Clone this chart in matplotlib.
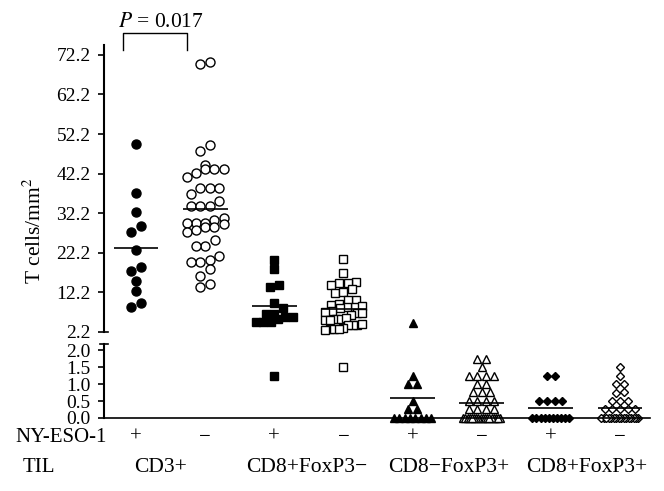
import numpy as np
import matplotlib.pyplot as plt
from matplotlib.transforms import blended_transform_factory

plt.rcParams['font.family'] = ['Liberation Serif', 'DejaVu Serif']
plt.rcParams['mathtext.fontset'] = 'stix'

# ---- data (T cells/mm^2) ----
til_labels = ['CD3+', 'CD8+FoxP3\u2212', 'CD8\u2212FoxP3+', 'CD8+FoxP3+']
nyeso_signs = ['+', '\u2212', '+', '\u2212', '+', '\u2212', '+', '\u2212']

cd3_pos = [49.8, 37.4, 32.4, 29.0, 27.4, 22.9, 18.5, 17.6, 15.0, 12.5, 8.5, 9.4]
cd3_neg = [70.4, 69.9, 49.4, 48.0, 44.4, 43.4, 43.4, 43.4, 42.3, 41.4, 38.7, 38.7,
           38.7, 37.0, 35.4, 34.1, 34.0, 34.1, 30.9, 30.4, 29.8, 29.8, 29.8, 29.5,
           28.6, 28.6, 27.5, 27.9, 25.4, 23.9, 23.9, 21.4, 20.4, 20.0, 20.0, 18.0,
           16.4, 13.5, 14.3]
cd8_foxp3neg_pos = [20.4, 18.2, 14.1, 13.6, 9.4, 8.2, 6.7, 5.4, 5.9, 4.7, 4.8, 6.7,
                    4.8, 5.9, 1.24]
cd8_foxp3neg_neg = [20.6, 17.0, 14.8, 14.5, 14.1, 14.5, 12.0, 13.0, 12.4, 10.4, 10.4,
                    9.1, 8.6, 9.3, 8.6, 8.8, 8.2, 6.9, 7.5, 7.2, 6.5, 7.0, 5.4, 5.2,
                    5.5, 5.3, 5.7, 4.0, 4.2, 4.0, 4.0, 3.1, 2.9, 2.8, 2.9, 2.9, 1.49]
cd8neg_foxp3_pos = [4.4, 1.24, 1.0, 1.0, 0.51, 0.26, 0.26, 0, 0, 0, 0, 0, 0, 0, 0]
cd8neg_foxp3_neg = [1.74, 1.74, 1.49, 1.24, 1.24, 1.24, 1.24, 1.0, 1.0, 0.76, 0.76,
                    0.76, 0.51, 0.51, 0.51, 0.51, 0.26, 0.26, 0.26, 0.26,
                    0, 0, 0, 0, 0, 0, 0, 0, 0, 0, 0, 0, 0, 0, 0, 0, 0, 0]
cd8_foxp3_pos = [1.24, 1.24, 0.5, 0.5, 0.5, 0.5, 0, 0, 0, 0, 0, 0, 0, 0, 0, 0]
cd8_foxp3_neg = [1.49, 1.24, 1.0, 1.0, 0.73, 0.76, 0.5, 0.5, 0.5, 0.26, 0.26, 0.26,
                 0.26, 0.26, 0, 0, 0, 0, 0, 0, 0, 0, 0, 0, 0, 0, 0, 0, 0, 0]

groups = [cd3_pos, cd3_neg, cd8_foxp3neg_pos, cd8_foxp3neg_neg,
          cd8neg_foxp3_pos, cd8neg_foxp3_neg, cd8_foxp3_pos, cd8_foxp3_neg]
markers = ['o', 'o', 's', 's', '^', '^', 'D', 'D']
filled = [True, False, True, False, True, False, True, False]
msizes = [6.5, 6.5, 5.8, 5.8, 5.8, 5.8, 4.2, 4.2]

p_text = '0.017'
break_at = 2.2  # values below this go to the lower panel

# ---- layout ----
W, H = 664, 491
fig = plt.figure(figsize=(W / 100, H / 100), dpi=100)
ax_top = fig.add_axes([104 / W, (H - 332) / H, 546 / W, 287 / H])
ax_bot = fig.add_axes([104 / W, (H - 418) / H, 546 / W, 74 / H])

xlim = (0.537, 8.434)
for ax in (ax_top, ax_bot):
    ax.set_xlim(*xlim)
    ax.spines['top'].set_visible(False)
    ax.spines['right'].set_visible(False)
    ax.spines['left'].set_linewidth(1.5)
    ax.tick_params(axis='y', length=4.5, width=1.2, labelsize=14, pad=5)
    ax.set_xticks([])
ax_top.spines['bottom'].set_visible(False)
ax_bot.spines['bottom'].set_linewidth(1.2)

ax_top.set_ylim(2.2, 74.7)
top_ticks = np.arange(2.2, 72.3, 10)
ax_top.set_yticks(top_ticks)
ax_top.set_yticklabels(['%.1f' % t for t in top_ticks])
ax_bot.set_ylim(0, 2.18)
bot_ticks = [0, 0.5, 1.0, 1.5, 2.0]
ax_bot.set_yticks(bot_ticks)
ax_bot.set_yticklabels(['%.1f' % t for t in bot_ticks])

# break caps on the two spines
ax_top.plot([0, 0.007], [0, 0], transform=ax_top.transAxes, color='k', lw=1.2, clip_on=False)
ax_bot.plot([-0.008, 0.008], [1, 1], transform=ax_bot.transAxes, color='k', lw=1.2, clip_on=False)

fig.canvas.draw()
px_per_x = ax_top.bbox.width / (xlim[1] - xlim[0])


def pix_y(v):
    ax = ax_top if v >= break_at else ax_bot
    return ax.transData.transform((1, v))[1]


def swarm(vals, d_px, max_px=37):
    # simple dot-plot layout: rows of close values spread sideways
    py = np.array([pix_y(v) for v in vals])
    order = np.argsort(py)
    offs = np.zeros(len(vals))
    rows, cur, start = [], [], None
    for i in order:
        if start is None or py[i] - start > d_px * 0.85:
            if cur:
                rows.append(cur)
            cur, start = [i], py[i]
        else:
            cur.append(i)
    rows.append(cur)
    for row in rows:
        n = len(row)
        if n == 1:
            continue
        step = min(d_px, max_px / (n - 1))
        for k, i in enumerate(row):
            offs[i] = (k - (n - 1) / 2) * step
    return offs / px_per_x


for gi, vals in enumerate(groups):
    xc = gi + 1
    vals = np.array(vals, dtype=float)
    d_px = msizes[gi] * 100 / 72 * (1.3 if markers[gi] == 'D' else 1.05)
    xs = xc + swarm(vals, d_px)
    style = dict(marker=markers[gi], ms=msizes[gi], ls='none', mec='black',
                 mew=1.0, mfc='black' if filled[gi] else 'white', clip_on=False)
    up = vals >= break_at
    ax_top.plot(xs[up], vals[up], **style)
    ax_bot.plot(xs[~up], vals[~up], **style)
    m = vals.mean()
    ax_m = ax_top if m >= break_at else ax_bot
    ax_m.hlines(m, xc - 0.325, xc + 0.325, color='black', lw=1.2, zorder=3)

# P-value bracket
tr = blended_transform_factory(ax_top.transData, ax_top.transAxes)
ax_top.plot([0.81, 0.81, 1.74, 1.74], [0.983, 1.042, 1.042, 0.983], transform=tr,
            color='black', lw=1.0, clip_on=False)
ax_top.text(1.36, 1.077, r'$P$ = ' + p_text, transform=tr, ha='center', va='center',
            fontsize=15.5)

# bottom labels
trb = blended_transform_factory(ax_bot.transData, ax_bot.transAxes)
row1 = (418 - 437) / 74
row2 = (418 - 467) / 74
for i, s in enumerate(nyeso_signs):
    ax_bot.text(i + 1, row1, s, transform=trb, ha='center', va='center', fontsize=15)
ax_bot.text(0.58, row1, 'NY-ESO-1', transform=trb, ha='right', va='center', fontsize=15)
ax_bot.text(-0.4, row2, 'TIL', transform=trb, ha='center', va='center', fontsize=15)
til_x = [1.35, 3.47, 5.52, 7.52]
for x, lab in zip(til_x, til_labels):
    ax_bot.text(x, row2, lab, transform=trb, ha='center', va='center', fontsize=15.5)

fig.text(35 / W, 1 - 231 / H, 'T cells/mm$^2$', rotation=90, ha='center', va='center',
         fontsize=15.5)

fig.savefig('out.png', dpi=100)
